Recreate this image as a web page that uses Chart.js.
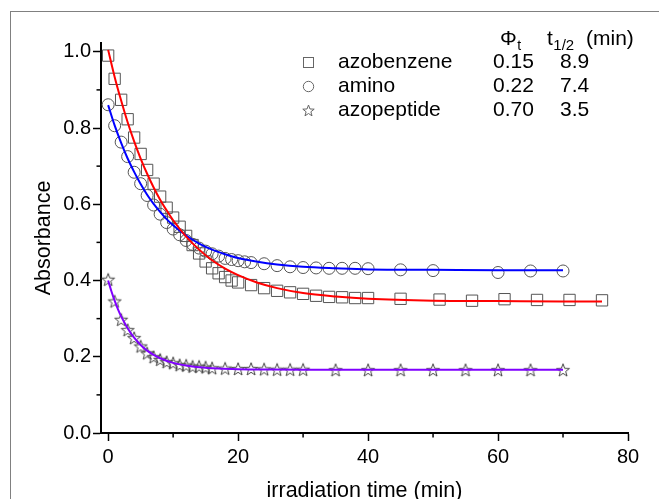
<!DOCTYPE html>
<html>
<head>
<meta charset="utf-8">
<script src="https://cdn.jsdelivr.net/npm/chart.js@4.4.1/dist/chart.umd.min.js"></script>
<style>
    html, body { margin: 0; padding: 0; background: #fff; overflow: hidden; }
    #wrap { position: relative; width: 659px; height: 499px; }
    #frame { position: absolute; left: 10px; top: 11px; width: 700px; height: 600px; border: 1px solid #808080; }
    #chart { position: absolute; left: 0; top: 0; }
</style>
</head>
<body>
<div id="wrap">
    <div id="frame"></div>
    <canvas id="chart" width="659" height="499"></canvas>
</div>
<script>
/* Photoisomerisation kinetics — absorbance vs irradiation time */

// ── Data ────────────────────────────────────────────────────────────────

const azoTime = [0, 1, 2, 3, 4, 5, 6, 7, 8, 9, 10, 11, 12, 13, 14, 15, 16, 17, 18, 19, 20,
    22, 24, 26, 28, 30, 32, 34, 36, 38, 40, 45, 51, 56, 61, 66, 71, 76];
const azoAbs = [0.99, 0.929, 0.874, 0.823, 0.775, 0.732, 0.69, 0.654, 0.62, 0.591, 0.565, 0.541,
    0.517, 0.493, 0.471, 0.45, 0.432, 0.419, 0.409, 0.40, 0.395,
    0.388, 0.380, 0.373, 0.369, 0.365, 0.36, 0.357, 0.356, 0.354, 0.354,
    0.352, 0.35, 0.347, 0.351, 0.349, 0.349, 0.348];

const aminoTime = [0, 1, 2, 3, 4, 5, 6, 7, 8, 9, 10, 11, 12, 13, 14, 15, 16, 17, 18, 19, 20, 21, 22,
    24, 26, 28, 30, 32, 34, 36, 38, 40, 45, 50, 60, 65, 70];
const aminoAbs = [0.861, 0.806, 0.763, 0.725, 0.684, 0.654, 0.623, 0.598, 0.574, 0.552, 0.535,
    0.52, 0.505, 0.495, 0.485, 0.477, 0.47, 0.464, 0.458, 0.455, 0.452, 0.449, 0.447,
    0.444, 0.439, 0.436, 0.434, 0.433, 0.432, 0.432, 0.432, 0.431,
    0.428, 0.426, 0.421, 0.425, 0.425];

const pepTime = [0, 1, 2, 3, 4, 5, 6, 7, 8, 9, 10, 11, 12, 13, 14, 15, 16,
    18, 20, 22, 24, 26, 28, 30, 35, 40, 45, 50, 55, 60, 65, 70];
const pepAbs = [0.402, 0.345, 0.297, 0.270, 0.249, 0.227, 0.209, 0.199, 0.192, 0.186, 0.183,
    0.178, 0.177, 0.174, 0.174, 0.172, 0.170,
    0.169, 0.168, 0.168, 0.167, 0.166, 0.166, 0.166,
    0.165, 0.165, 0.165, 0.165, 0.165, 0.165, 0.165, 0.165];

// fitted curves
const azoFitTime = [0, 1, 2, 3, 4, 5, 6, 7, 8, 9, 10, 12, 14, 16, 18, 20, 23, 26, 30, 35, 40, 50, 60, 70, 76];
const azoFitAbs = [1.005, 0.934, 0.872, 0.815, 0.765, 0.720, 0.680, 0.644, 0.612, 0.584, 0.558,
    0.515, 0.481, 0.453, 0.431, 0.414, 0.394, 0.380, 0.367, 0.358, 0.352, 0.347, 0.346, 0.345, 0.345];

const aminoFitTime = [0, 1, 2, 3, 4, 5, 6, 7, 8, 9, 10, 12, 14, 16, 18, 20, 23, 26, 30, 35, 40, 50, 60, 70];
const aminoFitAbs = [0.860, 0.807, 0.761, 0.720, 0.685, 0.653, 0.625, 0.601, 0.580, 0.561, 0.545,
    0.518, 0.497, 0.481, 0.469, 0.459, 0.449, 0.442, 0.436, 0.432, 0.429, 0.428, 0.427, 0.427];

const pepFitTime = [0, 0.5, 1, 1.5, 2, 3, 4, 5, 6, 7, 8, 10, 12, 14, 17, 20, 25, 30, 40, 50, 60, 70];
const pepFitAbs = [0.400, 0.372, 0.347, 0.325, 0.306, 0.275, 0.250, 0.231, 0.216, 0.205, 0.196,
    0.184, 0.177, 0.1725, 0.169, 0.1674, 0.1664, 0.166, 0.166, 0.166, 0.166, 0.166];

const xTicks = [0, 20, 40, 60, 80];
const xMinorTicks = [10, 30, 50, 70];
const yTicks = [0, 0.2, 0.4, 0.6, 0.8, 1.0];
const yMinorTicks = [0.1, 0.3, 0.5, 0.7, 0.9];

const legendRows = [
    { symbol: 'square', name: 'azobenzene', phi: '0.15', half: '8.9' },
    { symbol: 'circle', name: 'amino', phi: '0.22', half: '7.4' },
    { symbol: 'star', name: 'azopeptide', phi: '0.70', half: '3.5' },
];

// ── Helpers ─────────────────────────────────────────────────────────────

const FONT = 'Arial, "Liberation Sans", sans-serif';
const MARK = '#555555';

function toPoints(xs, ys) {
    return xs.map((x, i) => ({ x: x, y: ys[i] }));
}

function starPath(ctx, cx, cy, R, r) {
    ctx.beginPath();
    for (let i = 0; i < 10; i++) {
        const a = -Math.PI / 2 + i * Math.PI / 5;
        const rad = i % 2 ? r : R;
        const px = cx + rad * Math.cos(a);
        const py = cy + rad * Math.sin(a);
        if (i === 0) ctx.moveTo(px, py); else ctx.lineTo(px, py);
    }
    ctx.closePath();
}

function makeStar() {
    const c = document.createElement('canvas');
    c.width = 16;
    c.height = 16;
    const g = c.getContext('2d');
    g.strokeStyle = '#444';
    g.lineWidth = 1;
    starPath(g, 8, 8.5, 6.8, 2.8);
    g.stroke();
    return c;
}

// minor ticks (Chart.js has none of its own)
const minorTicks = {
    id: 'minorTicks',
    afterDraw(chart) {
        const ctx = chart.ctx;
        const xs = chart.scales.x;
        const ys = chart.scales.y;
        const area = chart.chartArea;
        ctx.save();
        ctx.strokeStyle = '#000';
        ctx.lineWidth = 1.5;
        xMinorTicks.forEach(v => {
            const px = xs.getPixelForValue(v);
            ctx.beginPath();
            ctx.moveTo(px, area.bottom);
            ctx.lineTo(px, area.bottom + 4.5);
            ctx.stroke();
        });
        yMinorTicks.forEach(v => {
            const py = ys.getPixelForValue(v);
            ctx.beginPath();
            ctx.moveTo(area.left - 4.5, py);
            ctx.lineTo(area.left, py);
            ctx.stroke();
        });
        ctx.restore();
    }
};

// table-style legend in the upper right
const tableLegend = {
    id: 'tableLegend',
    afterDraw(chart) {
        const ctx = chart.ctx;
        ctx.save();
        ctx.fillStyle = '#000';
        ctx.textBaseline = 'alphabetic';

        // header
        ctx.font = '21px ' + FONT;
        ctx.fillText('\u03A6', 500, 45);
        const phiW = ctx.measureText('\u03A6').width;
        ctx.font = '14px ' + FONT;
        ctx.fillText('t', 500 + phiW + 0.5, 50);
        ctx.font = '21px ' + FONT;
        ctx.fillText('t', 547, 45);
        const tW = ctx.measureText('t').width;
        ctx.font = '15px ' + FONT;
        ctx.fillText('1/2', 547 + tW + 0.5, 50);
        ctx.font = '21px ' + FONT;
        ctx.fillText('(min)', 586, 45);

        legendRows.forEach((row, i) => {
            const cy = 62 + i * 24;
            const base = 68 + i * 24;
            ctx.strokeStyle = '#666';
            ctx.lineWidth = 1;
            if (row.symbol === 'square') {
                ctx.strokeRect(303.5, cy - 4.5, 10, 10);
            } else if (row.symbol === 'circle') {
                ctx.beginPath();
                ctx.arc(308.5, cy + 0.5, 5.2, 0, Math.PI * 2);
                ctx.stroke();
            } else {
                starPath(ctx, 308.5, cy + 1, 6, 2.5);
                ctx.stroke();
            }
            ctx.font = '21px ' + FONT;
            ctx.fillText(row.name, 338, base);
            ctx.fillText(row.phi, 493, base);
            ctx.fillText(row.half, 560, base);
        });
        ctx.restore();
    }
};

// ── Chart ───────────────────────────────────────────────────────────────

const starImg = makeStar();

const datasets = [
    {
        label: 'azobenzene fit',
        data: toPoints(azoFitTime, azoFitAbs),
        showLine: true,
        borderColor: '#ff0000',
        borderWidth: 2,
        pointRadius: 0,
        cubicInterpolationMode: 'monotone',
    },
    {
        label: 'amino fit',
        data: toPoints(aminoFitTime, aminoFitAbs),
        showLine: true,
        borderColor: '#0000ff',
        borderWidth: 2,
        pointRadius: 0,
        cubicInterpolationMode: 'monotone',
    },
    {
        label: 'azopeptide fit',
        data: toPoints(pepFitTime, pepFitAbs),
        showLine: true,
        borderColor: '#8000ff',
        borderWidth: 2,
        pointRadius: 0,
        cubicInterpolationMode: 'monotone',
    },
    {
        label: 'azobenzene',
        data: toPoints(azoTime, azoAbs),
        pointStyle: 'rect',
        pointRadius: 8,
        pointBorderColor: MARK,
        pointBackgroundColor: 'rgba(0,0,0,0)',
        pointBorderWidth: 1,
    },
    {
        label: 'amino',
        data: toPoints(aminoTime, aminoAbs),
        pointStyle: 'circle',
        pointRadius: 6,
        pointBorderColor: MARK,
        pointBackgroundColor: 'rgba(0,0,0,0)',
        pointBorderWidth: 1,
    },
    {
        label: 'azopeptide',
        data: toPoints(pepTime, pepAbs),
        pointStyle: starImg,
        pointRadius: 7,
    },
];

new Chart(document.getElementById('chart'), {
    type: 'scatter',
    data: { datasets },
    plugins: [minorTicks, tableLegend],
    options: {
        responsive: false,
        animation: false,
        layout: { padding: { top: 43, right: 31, bottom: 0, left: 0 } },
        plugins: {
            legend: { display: false },
            tooltip: { enabled: false },
        },
        scales: {
            x: {
                type: 'linear',
                position: 'bottom',
                min: -1.1,
                max: 80,
                afterBuildTicks: s => { s.ticks = xTicks.map(v => ({ value: v })); },
                afterFit: s => { s.height = 66; },
                grid: { drawOnChartArea: false, drawTicks: true, tickLength: 8, tickWidth: 1.5, tickColor: '#000' },
                border: { color: '#000', width: 2 },
                ticks: {
                    color: '#000',
                    padding: 4,
                    font: { family: FONT, size: 20 },
                    callback: v => String(v),
                },
                title: {
                    display: true,
                    text: 'irradiation time (min)',
                    color: '#000',
                    font: { family: FONT, size: 21.5, lineHeight: 1 },
                    padding: { top: 0, bottom: -3 },
                },
            },
            y: {
                type: 'linear',
                position: 'left',
                min: 0,
                max: 1.023,
                afterBuildTicks: s => { s.ticks = yTicks.map(v => ({ value: v })); },
                afterFit: s => { s.width = 101; },
                grid: { drawOnChartArea: false, drawTicks: true, tickLength: 8, tickWidth: 1.5, tickColor: '#000' },
                border: { color: '#000', width: 2 },
                ticks: {
                    color: '#000',
                    padding: 2,
                    font: { family: FONT, size: 20 },
                    callback: v => Number(v).toFixed(1),
                },
                title: {
                    display: true,
                    text: 'Absorbance',
                    color: '#000',
                    font: { family: FONT, size: 21.5, lineHeight: 1 },
                    padding: { top: 33, bottom: 0 },
                },
            },
        },
    },
});
</script>
</body>
</html>
